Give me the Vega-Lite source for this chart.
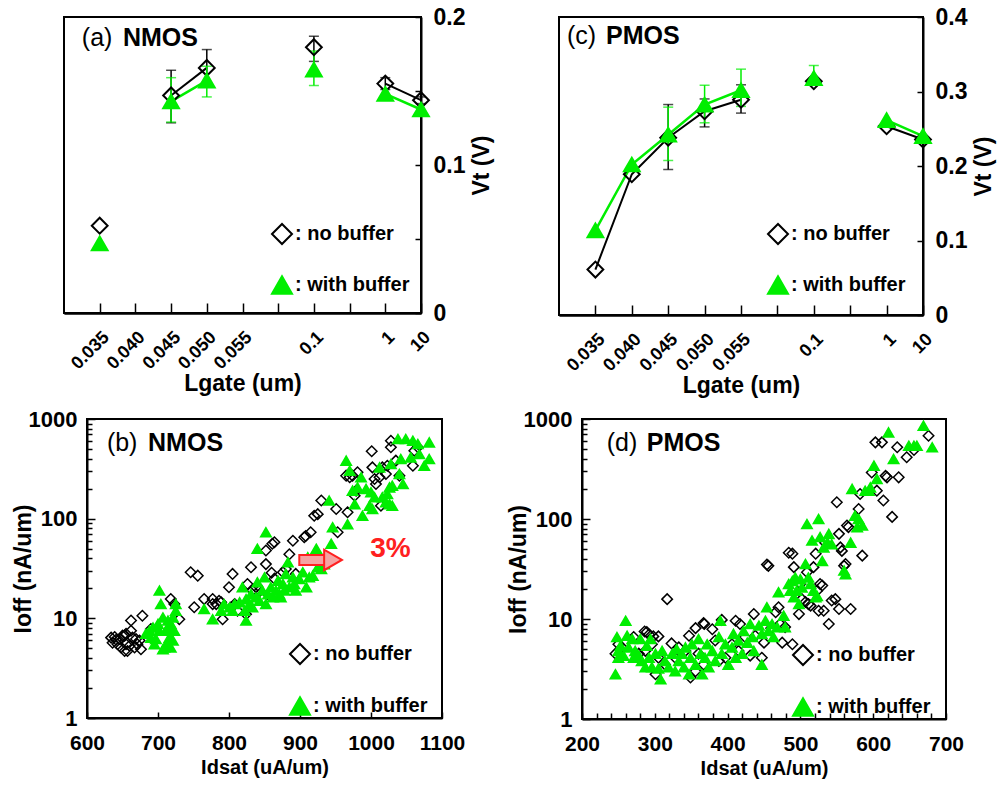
{
  "$schema": "https://vega.github.io/schema/vega-lite/v6.json",
  "padding": {"left": 11, "top": 5, "right": 0, "bottom": 0},
  "background": "white",
  "config": {
    "font": "Liberation Sans",
    "view": {"stroke": "black", "strokeWidth": 2},
    "axis": {"labelFont": "Liberation Sans", "labelFontWeight": "bold", "labelColor": "black", "titleFont": "Liberation Sans", "titleFontWeight": "bold", "titleColor": "black", "domainColor": "black", "domainWidth": 2, "tickColor": "black", "tickWidth": 1.5, "grid": false, "labelFlush": false, "labelBound": false},
    "legend": {"labelFont": "Liberation Sans", "labelFontWeight": "bold", "labelColor": "black", "labelFontSize": 20}
  },
  "datasets": {
    "vtN": [
      {"pos": 1, "type": "no buffer", "vt": 0.059, "lo": null, "hi": null, "seg": "A"},
      {"pos": 3, "type": "no buffer", "vt": 0.147, "lo": 0.1285, "hi": 0.164, "seg": "B"},
      {"pos": 4, "type": "no buffer", "vt": 0.1656, "lo": 0.156, "hi": 0.178, "seg": "B"},
      {"pos": 7, "type": "no buffer", "vt": 0.1796, "lo": 0.170, "hi": 0.187, "seg": "C"},
      {"pos": 9, "type": "no buffer", "vt": 0.155, "lo": 0.151, "hi": 0.159, "seg": "D"},
      {"pos": 10, "type": "no buffer", "vt": 0.1438, "lo": 0.1415, "hi": 0.146, "seg": "D"},
      {"pos": 1, "type": "with buffer", "vt": 0.047, "lo": null, "hi": null, "seg": "A"},
      {"pos": 3, "type": "with buffer", "vt": 0.143, "lo": 0.129, "hi": 0.159, "seg": "B"},
      {"pos": 4, "type": "with buffer", "vt": 0.157, "lo": 0.146, "hi": 0.1667, "seg": "B"},
      {"pos": 7, "type": "with buffer", "vt": 0.1645, "lo": 0.1537, "hi": 0.177, "seg": "C"},
      {"pos": 9, "type": "with buffer", "vt": 0.148, "lo": null, "hi": null, "seg": "D"},
      {"pos": 10, "type": "with buffer", "vt": 0.1375, "lo": null, "hi": null, "seg": "D"}
    ],
    "vtP": [
      {"pos": 1, "type": "no buffer", "vt": 0.061, "lo": null, "hi": null, "seg": "A"},
      {"pos": 2, "type": "no buffer", "vt": 0.189, "lo": null, "hi": null, "seg": "A"},
      {"pos": 3, "type": "no buffer", "vt": 0.238, "lo": 0.1953, "hi": 0.2825, "seg": "A"},
      {"pos": 4, "type": "no buffer", "vt": 0.2735, "lo": 0.2525, "hi": 0.29, "seg": "A"},
      {"pos": 5, "type": "no buffer", "vt": 0.289, "lo": 0.271, "hi": 0.309, "seg": "A"},
      {"pos": 7, "type": "no buffer", "vt": 0.3137, "lo": 0.309, "hi": 0.318, "seg": "C"},
      {"pos": 9, "type": "no buffer", "vt": 0.2534, "lo": null, "hi": null, "seg": "D"},
      {"pos": 10, "type": "no buffer", "vt": 0.2355, "lo": null, "hi": null, "seg": "D"},
      {"pos": 1, "type": "with buffer", "vt": 0.1135, "lo": null, "hi": null, "seg": "A"},
      {"pos": 2, "type": "with buffer", "vt": 0.202, "lo": null, "hi": null, "seg": "A"},
      {"pos": 3, "type": "with buffer", "vt": 0.242, "lo": 0.2074, "hi": 0.279, "seg": "A"},
      {"pos": 4, "type": "with buffer", "vt": 0.2825, "lo": 0.258, "hi": 0.3084, "seg": "A"},
      {"pos": 5, "type": "with buffer", "vt": 0.3017, "lo": 0.28, "hi": 0.33, "seg": "A"},
      {"pos": 7, "type": "with buffer", "vt": 0.318, "lo": 0.31, "hi": 0.335, "seg": "C"},
      {"pos": 9, "type": "with buffer", "vt": 0.2615, "lo": null, "hi": null, "seg": "D"},
      {"pos": 10, "type": "with buffer", "vt": 0.24, "lo": null, "hi": null, "seg": "D"}
    ],
    "ioN": [
      {"type": "no buffer", "Idsat": 634, "Ioff": 6.4}, {"type": "no buffer", "Idsat": 636, "Ioff": 5.7}, {"type": "no buffer", "Idsat": 641, "Ioff": 6.1}, {"type": "no buffer", "Idsat": 646, "Ioff": 6.2}, {"type": "no buffer", "Idsat": 648, "Ioff": 5.1}, {"type": "no buffer", "Idsat": 653, "Ioff": 6.7}, {"type": "no buffer", "Idsat": 655, "Ioff": 5.5}, {"type": "no buffer", "Idsat": 660, "Ioff": 5.3}, {"type": "no buffer", "Idsat": 664, "Ioff": 6.4}, {"type": "no buffer", "Idsat": 662, "Ioff": 7.5}, {"type": "no buffer", "Idsat": 655, "Ioff": 7.0}, {"type": "no buffer", "Idsat": 650, "Ioff": 6.7}, {"type": "no buffer", "Idsat": 662, "Ioff": 9.5}, {"type": "no buffer", "Idsat": 669, "Ioff": 6.2}, {"type": "no buffer", "Idsat": 671, "Ioff": 5.5}, {"type": "no buffer", "Idsat": 676, "Ioff": 4.9}, {"type": "no buffer", "Idsat": 678, "Ioff": 10.6}, {"type": "no buffer", "Idsat": 674, "Ioff": 6.0}, {"type": "no buffer", "Idsat": 667, "Ioff": 5.1}, {"type": "no buffer", "Idsat": 657, "Ioff": 4.7}, {"type": "no buffer", "Idsat": 653, "Ioff": 4.7}, {"type": "no buffer", "Idsat": 643, "Ioff": 5.5}, {"type": "no buffer", "Idsat": 639, "Ioff": 6.5}, {"type": "no buffer", "Idsat": 690, "Ioff": 7.8}, {"type": "no buffer", "Idsat": 718, "Ioff": 15.6}, {"type": "no buffer", "Idsat": 723, "Ioff": 13.9}, {"type": "no buffer", "Idsat": 730, "Ioff": 9.8}, {"type": "no buffer", "Idsat": 746, "Ioff": 29}, {"type": "no buffer", "Idsat": 756, "Ioff": 26.8}, {"type": "no buffer", "Idsat": 751, "Ioff": 12.9}, {"type": "no buffer", "Idsat": 765, "Ioff": 15.6}, {"type": "no buffer", "Idsat": 777, "Ioff": 15.6}, {"type": "no buffer", "Idsat": 777, "Ioff": 13.9}, {"type": "no buffer", "Idsat": 782, "Ioff": 13.9}, {"type": "no buffer", "Idsat": 786, "Ioff": 15.0}, {"type": "no buffer", "Idsat": 789, "Ioff": 14.5}, {"type": "no buffer", "Idsat": 791, "Ioff": 9.8}, {"type": "no buffer", "Idsat": 800, "Ioff": 20.5}, {"type": "no buffer", "Idsat": 805, "Ioff": 27.9}, {"type": "no buffer", "Idsat": 808, "Ioff": 13.9}, {"type": "no buffer", "Idsat": 803, "Ioff": 12.9}, {"type": "no buffer", "Idsat": 812, "Ioff": 11.9}, {"type": "no buffer", "Idsat": 824, "Ioff": 11.0}, {"type": "no buffer", "Idsat": 826, "Ioff": 22.1}, {"type": "no buffer", "Idsat": 831, "Ioff": 32.5}, {"type": "no buffer", "Idsat": 833, "Ioff": 19.0}, {"type": "no buffer", "Idsat": 838, "Ioff": 20.5}, {"type": "no buffer", "Idsat": 843, "Ioff": 19.0}, {"type": "no buffer", "Idsat": 847, "Ioff": 15.6}, {"type": "no buffer", "Idsat": 852, "Ioff": 35}, {"type": "no buffer", "Idsat": 852, "Ioff": 48}, {"type": "no buffer", "Idsat": 860, "Ioff": 28.7}, {"type": "no buffer", "Idsat": 864, "Ioff": 25}, {"type": "no buffer", "Idsat": 861, "Ioff": 56}, {"type": "no buffer", "Idsat": 864, "Ioff": 58}, {"type": "no buffer", "Idsat": 876, "Ioff": 29}, {"type": "no buffer", "Idsat": 880, "Ioff": 31.3}, {"type": "no buffer", "Idsat": 885, "Ioff": 44}, {"type": "no buffer", "Idsat": 890, "Ioff": 60}, {"type": "no buffer", "Idsat": 906, "Ioff": 65}, {"type": "no buffer", "Idsat": 908, "Ioff": 67}, {"type": "no buffer", "Idsat": 915, "Ioff": 73}, {"type": "no buffer", "Idsat": 894, "Ioff": 27.9}, {"type": "no buffer", "Idsat": 920, "Ioff": 107}, {"type": "no buffer", "Idsat": 925, "Ioff": 111}, {"type": "no buffer", "Idsat": 930, "Ioff": 152}, {"type": "no buffer", "Idsat": 951, "Ioff": 125}, {"type": "no buffer", "Idsat": 953, "Ioff": 73}, {"type": "no buffer", "Idsat": 967, "Ioff": 116}, {"type": "no buffer", "Idsat": 965, "Ioff": 270}, {"type": "no buffer", "Idsat": 970, "Ioff": 260}, {"type": "no buffer", "Idsat": 974, "Ioff": 270}, {"type": "no buffer", "Idsat": 979, "Ioff": 191}, {"type": "no buffer", "Idsat": 977, "Ioff": 170}, {"type": "no buffer", "Idsat": 981, "Ioff": 292}, {"type": "no buffer", "Idsat": 1001, "Ioff": 475}, {"type": "no buffer", "Idsat": 1002, "Ioff": 327}, {"type": "no buffer", "Idsat": 1005, "Ioff": 250}, {"type": "no buffer", "Idsat": 1007, "Ioff": 223}, {"type": "no buffer", "Idsat": 1012, "Ioff": 260}, {"type": "no buffer", "Idsat": 1014, "Ioff": 135}, {"type": "no buffer", "Idsat": 1016, "Ioff": 327}, {"type": "no buffer", "Idsat": 1021, "Ioff": 281}, {"type": "no buffer", "Idsat": 1023, "Ioff": 340}, {"type": "no buffer", "Idsat": 1028, "Ioff": 520}, {"type": "no buffer", "Idsat": 1028, "Ioff": 606}, {"type": "no buffer", "Idsat": 1035, "Ioff": 382}, {"type": "no buffer", "Idsat": 1040, "Ioff": 270}, {"type": "no buffer", "Idsat": 1059, "Ioff": 340}, {"type": "no buffer", "Idsat": 1061, "Ioff": 481}, {"type": "no buffer", "Idsat": 1066, "Ioff": 520},
      {"type": "with buffer", "Idsat": 683, "Ioff": 7.0}, {"type": "with buffer", "Idsat": 690, "Ioff": 6.4}, {"type": "with buffer", "Idsat": 695, "Ioff": 5.5}, {"type": "with buffer", "Idsat": 700, "Ioff": 8.8}, {"type": "with buffer", "Idsat": 702, "Ioff": 19.0}, {"type": "with buffer", "Idsat": 704, "Ioff": 13.9}, {"type": "with buffer", "Idsat": 707, "Ioff": 10.2}, {"type": "with buffer", "Idsat": 711, "Ioff": 7.5}, {"type": "with buffer", "Idsat": 714, "Ioff": 9.5}, {"type": "with buffer", "Idsat": 714, "Ioff": 5.5}, {"type": "with buffer", "Idsat": 716, "Ioff": 6.4}, {"type": "with buffer", "Idsat": 718, "Ioff": 8.8}, {"type": "with buffer", "Idsat": 721, "Ioff": 10.2}, {"type": "with buffer", "Idsat": 723, "Ioff": 7.5}, {"type": "with buffer", "Idsat": 725, "Ioff": 13.9}, {"type": "with buffer", "Idsat": 725, "Ioff": 11.9}, {"type": "with buffer", "Idsat": 709, "Ioff": 5.1}, {"type": "with buffer", "Idsat": 702, "Ioff": 7.5}, {"type": "with buffer", "Idsat": 697, "Ioff": 6.2}, {"type": "with buffer", "Idsat": 688, "Ioff": 7.5}, {"type": "with buffer", "Idsat": 693, "Ioff": 8.1}, {"type": "with buffer", "Idsat": 721, "Ioff": 6.0}, {"type": "with buffer", "Idsat": 718, "Ioff": 5.1}, {"type": "with buffer", "Idsat": 707, "Ioff": 4.9}, {"type": "with buffer", "Idsat": 714, "Ioff": 8.1},
      {"type": "with buffer", "Idsat": 765, "Ioff": 12.4}, {"type": "with buffer", "Idsat": 777, "Ioff": 9.8}, {"type": "with buffer", "Idsat": 789, "Ioff": 11.9}, {"type": "with buffer", "Idsat": 793, "Ioff": 13.9}, {"type": "with buffer", "Idsat": 801, "Ioff": 12.9}, {"type": "with buffer", "Idsat": 805, "Ioff": 11.9}, {"type": "with buffer", "Idsat": 808, "Ioff": 13.9}, {"type": "with buffer", "Idsat": 815, "Ioff": 14.5}, {"type": "with buffer", "Idsat": 819, "Ioff": 20.5}, {"type": "with buffer", "Idsat": 822, "Ioff": 11.9}, {"type": "with buffer", "Idsat": 824, "Ioff": 15.6}, {"type": "with buffer", "Idsat": 824, "Ioff": 9.5}, {"type": "with buffer", "Idsat": 829, "Ioff": 13.9}, {"type": "with buffer", "Idsat": 831, "Ioff": 17.5}, {"type": "with buffer", "Idsat": 833, "Ioff": 12.9}, {"type": "with buffer", "Idsat": 838, "Ioff": 16.3}, {"type": "with buffer", "Idsat": 840, "Ioff": 23.0}, {"type": "with buffer", "Idsat": 840, "Ioff": 50}, {"type": "with buffer", "Idsat": 843, "Ioff": 15.0}, {"type": "with buffer", "Idsat": 847, "Ioff": 19.0}, {"type": "with buffer", "Idsat": 850, "Ioff": 25.8}, {"type": "with buffer", "Idsat": 852, "Ioff": 13.9}, {"type": "with buffer", "Idsat": 852, "Ioff": 73}, {"type": "with buffer", "Idsat": 855, "Ioff": 17.5}, {"type": "with buffer", "Idsat": 859, "Ioff": 20.5}, {"type": "with buffer", "Idsat": 862, "Ioff": 16.3}, {"type": "with buffer", "Idsat": 866, "Ioff": 19.0}, {"type": "with buffer", "Idsat": 869, "Ioff": 23.9}, {"type": "with buffer", "Idsat": 871, "Ioff": 17.5}, {"type": "with buffer", "Idsat": 873, "Ioff": 16.3}, {"type": "with buffer", "Idsat": 876, "Ioff": 22.1}, {"type": "with buffer", "Idsat": 878, "Ioff": 19.0}, {"type": "with buffer", "Idsat": 880, "Ioff": 27.9}, {"type": "with buffer", "Idsat": 883, "Ioff": 36.5}, {"type": "with buffer", "Idsat": 885, "Ioff": 20.5}, {"type": "with buffer", "Idsat": 890, "Ioff": 25.8}, {"type": "with buffer", "Idsat": 892, "Ioff": 22.1}, {"type": "with buffer", "Idsat": 894, "Ioff": 19.0}, {"type": "with buffer", "Idsat": 899, "Ioff": 24.8}, {"type": "with buffer", "Idsat": 904, "Ioff": 29}, {"type": "with buffer", "Idsat": 909, "Ioff": 20.5}, {"type": "with buffer", "Idsat": 911, "Ioff": 41}, {"type": "with buffer", "Idsat": 913, "Ioff": 25.8}, {"type": "with buffer", "Idsat": 918, "Ioff": 26.8}, {"type": "with buffer", "Idsat": 923, "Ioff": 50}, {"type": "with buffer", "Idsat": 925, "Ioff": 32.5}, {"type": "with buffer", "Idsat": 930, "Ioff": 31.3}, {"type": "with buffer", "Idsat": 934, "Ioff": 35}, {"type": "with buffer", "Idsat": 939, "Ioff": 41}, {"type": "with buffer", "Idsat": 941, "Ioff": 152}, {"type": "with buffer", "Idsat": 944, "Ioff": 56}, {"type": "with buffer", "Idsat": 946, "Ioff": 82}, {"type": "with buffer", "Idsat": 965, "Ioff": 382}, {"type": "with buffer", "Idsat": 967, "Ioff": 88}, {"type": "with buffer", "Idsat": 970, "Ioff": 303}, {"type": "with buffer", "Idsat": 974, "Ioff": 191}, {"type": "with buffer", "Idsat": 977, "Ioff": 140}, {"type": "with buffer", "Idsat": 981, "Ioff": 206}, {"type": "with buffer", "Idsat": 986, "Ioff": 260}, {"type": "with buffer", "Idsat": 988, "Ioff": 107}, {"type": "with buffer", "Idsat": 993, "Ioff": 199}, {"type": "with buffer", "Idsat": 998, "Ioff": 135}, {"type": "with buffer", "Idsat": 1000, "Ioff": 184}, {"type": "with buffer", "Idsat": 1002, "Ioff": 125}, {"type": "with buffer", "Idsat": 1005, "Ioff": 164}, {"type": "with buffer", "Idsat": 1012, "Ioff": 327}, {"type": "with buffer", "Idsat": 1016, "Ioff": 164}, {"type": "with buffer", "Idsat": 1021, "Ioff": 146}, {"type": "with buffer", "Idsat": 1023, "Ioff": 177}, {"type": "with buffer", "Idsat": 1026, "Ioff": 140}, {"type": "with buffer", "Idsat": 1028, "Ioff": 353}, {"type": "with buffer", "Idsat": 1038, "Ioff": 630}, {"type": "with buffer", "Idsat": 1040, "Ioff": 281}, {"type": "with buffer", "Idsat": 1042, "Ioff": 397}, {"type": "with buffer", "Idsat": 1045, "Ioff": 223}, {"type": "with buffer", "Idsat": 1049, "Ioff": 630}, {"type": "with buffer", "Idsat": 1056, "Ioff": 412}, {"type": "with buffer", "Idsat": 1059, "Ioff": 606}, {"type": "with buffer", "Idsat": 1066, "Ioff": 561}, {"type": "with buffer", "Idsat": 1068, "Ioff": 445}, {"type": "with buffer", "Idsat": 1075, "Ioff": 340}, {"type": "with buffer", "Idsat": 1082, "Ioff": 583}, {"type": "with buffer", "Idsat": 1082, "Ioff": 397}, {"type": "with buffer", "Idsat": 1030, "Ioff": 214}, {"type": "with buffer", "Idsat": 1030, "Ioff": 135}, {"type": "with buffer", "Idsat": 1026, "Ioff": 206}
    ],
    "ioP": [
      {"type": "no buffer", "Idsat": 246, "Ioff": 4.5}, {"type": "no buffer", "Idsat": 250, "Ioff": 5.6}, {"type": "no buffer", "Idsat": 255, "Ioff": 5.2}, {"type": "no buffer", "Idsat": 271, "Ioff": 6.6}, {"type": "no buffer", "Idsat": 278, "Ioff": 4.5}, {"type": "no buffer", "Idsat": 286, "Ioff": 7.5}, {"type": "no buffer", "Idsat": 289, "Ioff": 7.4}, {"type": "no buffer", "Idsat": 292, "Ioff": 7.0}, {"type": "no buffer", "Idsat": 287, "Ioff": 4.8}, {"type": "no buffer", "Idsat": 296, "Ioff": 5.6}, {"type": "no buffer", "Idsat": 298, "Ioff": 6.7}, {"type": "no buffer", "Idsat": 305, "Ioff": 6.7}, {"type": "no buffer", "Idsat": 305, "Ioff": 4.1}, {"type": "no buffer", "Idsat": 301, "Ioff": 2.8}, {"type": "no buffer", "Idsat": 314, "Ioff": 3.5}, {"type": "no buffer", "Idsat": 317, "Ioff": 15.8}, {"type": "no buffer", "Idsat": 323, "Ioff": 5.7}, {"type": "no buffer", "Idsat": 328, "Ioff": 4.1}, {"type": "no buffer", "Idsat": 333, "Ioff": 5.2}, {"type": "no buffer", "Idsat": 342, "Ioff": 4.8}, {"type": "no buffer", "Idsat": 347, "Ioff": 6.8}, {"type": "no buffer", "Idsat": 349, "Ioff": 2.6}, {"type": "no buffer", "Idsat": 356, "Ioff": 8.1}, {"type": "no buffer", "Idsat": 356, "Ioff": 3.0}, {"type": "no buffer", "Idsat": 360, "Ioff": 4.5}, {"type": "no buffer", "Idsat": 367, "Ioff": 9.1}, {"type": "no buffer", "Idsat": 368, "Ioff": 8.9}, {"type": "no buffer", "Idsat": 367, "Ioff": 3.5}, {"type": "no buffer", "Idsat": 379, "Ioff": 7.9}, {"type": "no buffer", "Idsat": 383, "Ioff": 6.1}, {"type": "no buffer", "Idsat": 388, "Ioff": 3.8}, {"type": "no buffer", "Idsat": 392, "Ioff": 9.8}, {"type": "no buffer", "Idsat": 397, "Ioff": 4.1}, {"type": "no buffer", "Idsat": 406, "Ioff": 5.6}, {"type": "no buffer", "Idsat": 411, "Ioff": 9.6}, {"type": "no buffer", "Idsat": 415, "Ioff": 4.8}, {"type": "no buffer", "Idsat": 417, "Ioff": 8.9}, {"type": "no buffer", "Idsat": 424, "Ioff": 6.6}, {"type": "no buffer", "Idsat": 431, "Ioff": 4.3}, {"type": "no buffer", "Idsat": 436, "Ioff": 11.2}, {"type": "no buffer", "Idsat": 438, "Ioff": 6.8}, {"type": "no buffer", "Idsat": 447, "Ioff": 4.1}, {"type": "no buffer", "Idsat": 450, "Ioff": 5.8}, {"type": "no buffer", "Idsat": 454, "Ioff": 35}, {"type": "no buffer", "Idsat": 456, "Ioff": 34}, {"type": "no buffer", "Idsat": 460, "Ioff": 8.1}, {"type": "no buffer", "Idsat": 466, "Ioff": 11.7}, {"type": "no buffer", "Idsat": 470, "Ioff": 13.1}, {"type": "no buffer", "Idsat": 472, "Ioff": 8.9}, {"type": "no buffer", "Idsat": 475, "Ioff": 5.8}, {"type": "no buffer", "Idsat": 479, "Ioff": 8.3}, {"type": "no buffer", "Idsat": 484, "Ioff": 46}, {"type": "no buffer", "Idsat": 489, "Ioff": 45}, {"type": "no buffer", "Idsat": 489, "Ioff": 5.6}, {"type": "no buffer", "Idsat": 491, "Ioff": 33}, {"type": "no buffer", "Idsat": 498, "Ioff": 11.2}, {"type": "no buffer", "Idsat": 500, "Ioff": 22.4}, {"type": "no buffer", "Idsat": 502, "Ioff": 15.8}, {"type": "no buffer", "Idsat": 507, "Ioff": 14.8}, {"type": "no buffer", "Idsat": 509, "Ioff": 29.3}, {"type": "no buffer", "Idsat": 511, "Ioff": 14.1}, {"type": "no buffer", "Idsat": 514, "Ioff": 13.6}, {"type": "no buffer", "Idsat": 518, "Ioff": 33}, {"type": "no buffer", "Idsat": 521, "Ioff": 45}, {"type": "no buffer", "Idsat": 523, "Ioff": 19.2}, {"type": "no buffer", "Idsat": 525, "Ioff": 12.1}, {"type": "no buffer", "Idsat": 527, "Ioff": 22.4}, {"type": "no buffer", "Idsat": 530, "Ioff": 21.6}, {"type": "no buffer", "Idsat": 532, "Ioff": 12.1}, {"type": "no buffer", "Idsat": 534, "Ioff": 58}, {"type": "no buffer", "Idsat": 539, "Ioff": 8.9}, {"type": "no buffer", "Idsat": 543, "Ioff": 15.3}, {"type": "no buffer", "Idsat": 548, "Ioff": 15.8}, {"type": "no buffer", "Idsat": 550, "Ioff": 147}, {"type": "no buffer", "Idsat": 553, "Ioff": 71}, {"type": "no buffer", "Idsat": 553, "Ioff": 12.6}, {"type": "no buffer", "Idsat": 555, "Ioff": 52}, {"type": "no buffer", "Idsat": 557, "Ioff": 48}, {"type": "no buffer", "Idsat": 560, "Ioff": 34}, {"type": "no buffer", "Idsat": 562, "Ioff": 35.5}, {"type": "no buffer", "Idsat": 564, "Ioff": 86}, {"type": "no buffer", "Idsat": 566, "Ioff": 83}, {"type": "no buffer", "Idsat": 569, "Ioff": 12.6}, {"type": "no buffer", "Idsat": 580, "Ioff": 126}, {"type": "no buffer", "Idsat": 582, "Ioff": 178}, {"type": "no buffer", "Idsat": 585, "Ioff": 43}, {"type": "no buffer", "Idsat": 598, "Ioff": 292}, {"type": "no buffer", "Idsat": 603, "Ioff": 584}, {"type": "no buffer", "Idsat": 605, "Ioff": 192}, {"type": "no buffer", "Idsat": 612, "Ioff": 584}, {"type": "no buffer", "Idsat": 614, "Ioff": 153}, {"type": "no buffer", "Idsat": 617, "Ioff": 270}, {"type": "no buffer", "Idsat": 619, "Ioff": 261}, {"type": "no buffer", "Idsat": 626, "Ioff": 105}, {"type": "no buffer", "Idsat": 633, "Ioff": 521}, {"type": "no buffer", "Idsat": 635, "Ioff": 261}, {"type": "no buffer", "Idsat": 646, "Ioff": 414}, {"type": "no buffer", "Idsat": 656, "Ioff": 490}, {"type": "no buffer", "Idsat": 676, "Ioff": 681},
      {"type": "with buffer", "Idsat": 246, "Ioff": 2.8}, {"type": "with buffer", "Idsat": 248, "Ioff": 6.6}, {"type": "with buffer", "Idsat": 250, "Ioff": 4.8}, {"type": "with buffer", "Idsat": 250, "Ioff": 4.1}, {"type": "with buffer", "Idsat": 253, "Ioff": 5.4}, {"type": "with buffer", "Idsat": 257, "Ioff": 4.3}, {"type": "with buffer", "Idsat": 260, "Ioff": 9.6}, {"type": "with buffer", "Idsat": 262, "Ioff": 6.8}, {"type": "with buffer", "Idsat": 264, "Ioff": 5.2}, {"type": "with buffer", "Idsat": 269, "Ioff": 6.3}, {"type": "with buffer", "Idsat": 271, "Ioff": 4.1}, {"type": "with buffer", "Idsat": 273, "Ioff": 4.8}, {"type": "with buffer", "Idsat": 278, "Ioff": 4.3}, {"type": "with buffer", "Idsat": 280, "Ioff": 6.3}, {"type": "with buffer", "Idsat": 282, "Ioff": 3.8}, {"type": "with buffer", "Idsat": 287, "Ioff": 3.3}, {"type": "with buffer", "Idsat": 289, "Ioff": 5.4}, {"type": "with buffer", "Idsat": 292, "Ioff": 4.1}, {"type": "with buffer", "Idsat": 294, "Ioff": 6.3}, {"type": "with buffer", "Idsat": 296, "Ioff": 3.3}, {"type": "with buffer", "Idsat": 301, "Ioff": 4.5}, {"type": "with buffer", "Idsat": 305, "Ioff": 3.2}, {"type": "with buffer", "Idsat": 308, "Ioff": 2.5}, {"type": "with buffer", "Idsat": 310, "Ioff": 4.8}, {"type": "with buffer", "Idsat": 314, "Ioff": 3.8}, {"type": "with buffer", "Idsat": 319, "Ioff": 3.3}, {"type": "with buffer", "Idsat": 324, "Ioff": 4.5}, {"type": "with buffer", "Idsat": 328, "Ioff": 3.0}, {"type": "with buffer", "Idsat": 330, "Ioff": 5.0}, {"type": "with buffer", "Idsat": 333, "Ioff": 3.8}, {"type": "with buffer", "Idsat": 337, "Ioff": 4.5}, {"type": "with buffer", "Idsat": 340, "Ioff": 3.3}, {"type": "with buffer", "Idsat": 342, "Ioff": 5.2}, {"type": "with buffer", "Idsat": 347, "Ioff": 2.8}, {"type": "with buffer", "Idsat": 349, "Ioff": 4.1}, {"type": "with buffer", "Idsat": 351, "Ioff": 5.6}, {"type": "with buffer", "Idsat": 356, "Ioff": 3.5}, {"type": "with buffer", "Idsat": 360, "Ioff": 6.3}, {"type": "with buffer", "Idsat": 363, "Ioff": 4.5}, {"type": "with buffer", "Idsat": 365, "Ioff": 2.8}, {"type": "with buffer", "Idsat": 369, "Ioff": 4.1}, {"type": "with buffer", "Idsat": 372, "Ioff": 5.6}, {"type": "with buffer", "Idsat": 374, "Ioff": 3.3}, {"type": "with buffer", "Idsat": 379, "Ioff": 4.8}, {"type": "with buffer", "Idsat": 383, "Ioff": 3.8}, {"type": "with buffer", "Idsat": 388, "Ioff": 6.6}, {"type": "with buffer", "Idsat": 390, "Ioff": 9.6}, {"type": "with buffer", "Idsat": 392, "Ioff": 4.5}, {"type": "with buffer", "Idsat": 397, "Ioff": 5.6}, {"type": "with buffer", "Idsat": 401, "Ioff": 3.5}, {"type": "with buffer", "Idsat": 406, "Ioff": 5.2}, {"type": "with buffer", "Idsat": 408, "Ioff": 7.1}, {"type": "with buffer", "Idsat": 411, "Ioff": 4.1}, {"type": "with buffer", "Idsat": 415, "Ioff": 6.1}, {"type": "with buffer", "Idsat": 420, "Ioff": 4.5}, {"type": "with buffer", "Idsat": 422, "Ioff": 7.6}, {"type": "with buffer", "Idsat": 427, "Ioff": 5.8}, {"type": "with buffer", "Idsat": 431, "Ioff": 8.9}, {"type": "with buffer", "Idsat": 434, "Ioff": 6.6}, {"type": "with buffer", "Idsat": 436, "Ioff": 4.8}, {"type": "with buffer", "Idsat": 447, "Ioff": 3.5}, {"type": "with buffer", "Idsat": 443, "Ioff": 8.6}, {"type": "with buffer", "Idsat": 447, "Ioff": 7.1}, {"type": "with buffer", "Idsat": 452, "Ioff": 9.6}, {"type": "with buffer", "Idsat": 454, "Ioff": 13.1}, {"type": "with buffer", "Idsat": 456, "Ioff": 7.6}, {"type": "with buffer", "Idsat": 461, "Ioff": 8.9}, {"type": "with buffer", "Idsat": 463, "Ioff": 6.6}, {"type": "with buffer", "Idsat": 468, "Ioff": 8.3}, {"type": "with buffer", "Idsat": 470, "Ioff": 18.5}, {"type": "with buffer", "Idsat": 477, "Ioff": 10.8}, {"type": "with buffer", "Idsat": 479, "Ioff": 8.3}, {"type": "with buffer", "Idsat": 484, "Ioff": 22.4}, {"type": "with buffer", "Idsat": 486, "Ioff": 19.2}, {"type": "with buffer", "Idsat": 489, "Ioff": 24}, {"type": "with buffer", "Idsat": 491, "Ioff": 16.5}, {"type": "with buffer", "Idsat": 493, "Ioff": 26}, {"type": "with buffer", "Idsat": 495, "Ioff": 19.2}, {"type": "with buffer", "Idsat": 498, "Ioff": 14.1}, {"type": "with buffer", "Idsat": 500, "Ioff": 25}, {"type": "with buffer", "Idsat": 502, "Ioff": 20.7}, {"type": "with buffer", "Idsat": 507, "Ioff": 35.5}, {"type": "with buffer", "Idsat": 509, "Ioff": 89}, {"type": "with buffer", "Idsat": 511, "Ioff": 26}, {"type": "with buffer", "Idsat": 514, "Ioff": 22.4}, {"type": "with buffer", "Idsat": 516, "Ioff": 61}, {"type": "with buffer", "Idsat": 518, "Ioff": 19.2}, {"type": "with buffer", "Idsat": 521, "Ioff": 16.5}, {"type": "with buffer", "Idsat": 523, "Ioff": 17}, {"type": "with buffer", "Idsat": 525, "Ioff": 100}, {"type": "with buffer", "Idsat": 527, "Ioff": 66}, {"type": "with buffer", "Idsat": 530, "Ioff": 38}, {"type": "with buffer", "Idsat": 532, "Ioff": 52}, {"type": "with buffer", "Idsat": 537, "Ioff": 58}, {"type": "with buffer", "Idsat": 539, "Ioff": 71}, {"type": "with buffer", "Idsat": 543, "Ioff": 56}, {"type": "with buffer", "Idsat": 560, "Ioff": 30.5}, {"type": "with buffer", "Idsat": 562, "Ioff": 28}, {"type": "with buffer", "Idsat": 569, "Ioff": 58}, {"type": "with buffer", "Idsat": 571, "Ioff": 200}, {"type": "with buffer", "Idsat": 575, "Ioff": 108}, {"type": "with buffer", "Idsat": 578, "Ioff": 83}, {"type": "with buffer", "Idsat": 580, "Ioff": 100}, {"type": "with buffer", "Idsat": 585, "Ioff": 86}, {"type": "with buffer", "Idsat": 589, "Ioff": 192}, {"type": "with buffer", "Idsat": 594, "Ioff": 192}, {"type": "with buffer", "Idsat": 596, "Ioff": 207}, {"type": "with buffer", "Idsat": 601, "Ioff": 342}, {"type": "with buffer", "Idsat": 605, "Ioff": 252}, {"type": "with buffer", "Idsat": 621, "Ioff": 735}, {"type": "with buffer", "Idsat": 628, "Ioff": 398}, {"type": "with buffer", "Idsat": 649, "Ioff": 541}, {"type": "with buffer", "Idsat": 656, "Ioff": 541}, {"type": "with buffer", "Idsat": 660, "Ioff": 541}, {"type": "with buffer", "Idsat": 669, "Ioff": 858}, {"type": "with buffer", "Idsat": 681, "Ioff": 521}
    ]
  },
  "resolve": {"scale": {"shape": "independent", "fill": "independent", "stroke": "independent"}, "legend": {"shape": "independent", "fill": "independent", "stroke": "independent"}},
  "spacing": 11,
  "hconcat": [
    {
      "spacing": 106,
      "bounds": "flush",
      "resolve": {"scale": {"shape": "independent", "fill": "independent", "stroke": "independent"}, "legend": {"shape": "independent", "fill": "independent", "stroke": "independent"}},
      "vconcat": [
        {
          "width": 357, "height": 296,
          "data": {"name": "vtN"},
          "resolve": {"axis": {"x": "independent"}},
          "layer": [
            {"transform": [{"filter": "datum.type=='no buffer' && isValid(datum.lo)"}], "mark": {"type": "rule", "color": "black", "strokeWidth": 1.5},
             "encoding": {"x": {"field": "pos", "type": "quantitative", "title": "Lgate (um)", "scale": {"domain": [0, 10], "nice": false, "zero": false},
               "axis": {"orient": "bottom", "values": [1, 3, 5, 7, 9], "labelExpr": "['','0.035','0.040','0.045','0.050','0.055','','0.1','','1','10'][datum.value]", "labelAngle": -45, "labelFontSize": 18, "labelOverlap": false, "labelFlush": false, "labelBound": false, "tickSize": -10, "labelPadding": 25, "titleFontSize": 23, "titlePadding": 0}},
               "y": {"field": "lo", "type": "quantitative", "title": "Vt (V)", "scale": {"domain": [0, 0.2], "nice": false, "zero": false},
               "axis": {"orient": "right", "values": [0, 0.05, 0.1, 0.15, 0.2], "labelExpr": "round(datum.value*20)%2==0 ? format(datum.value,'~g') : ''", "labelOverlap": false, "labelFlush": false, "labelBound": false, "tickSize": -6, "labelPadding": 18, "labelFontSize": 23, "titleFontSize": 23, "titleAngle": 270, "titleBaseline": "top", "titlePadding": 6}},
               "y2": {"field": "hi"}}},
            {"transform": [{"filter": "datum.type=='no buffer' && isValid(datum.lo)"}, {"fold": ["lo", "hi"], "as": ["end", "v"]}], "mark": {"type": "tick", "orient": "horizontal", "size": 10, "thickness": 1.5, "color": "black"},
             "encoding": {"x": {"field": "pos", "type": "quantitative", "scale": {"domain": [0, 10], "nice": false, "zero": false},
               "axis": {"orient": "bottom", "values": [2, 4, 6, 8, 10], "labelExpr": "['','0.035','0.040','0.045','0.050','0.055','','0.1','','1','10'][datum.value]", "labelAngle": -45, "labelFontSize": 18, "labelOverlap": false, "labelFlush": false, "labelBound": false, "tickSize": -10, "labelPadding": 25, "title": null}},
               "y": {"field": "v", "type": "quantitative", "title": "Vt (V)", "scale": {"domain": [0, 0.2], "nice": false, "zero": false}}}},
            {"transform": [{"filter": "datum.type=='no buffer'"}], "mark": {"type": "line", "color": "black", "strokeWidth": 2},
             "encoding": {"x": {"field": "pos", "type": "quantitative", "scale": {"domain": [0, 10], "nice": false, "zero": false}, "axis": null}, "y": {"field": "vt", "type": "quantitative", "title": "Vt (V)", "scale": {"domain": [0, 0.2], "nice": false, "zero": false}}, "detail": {"field": "seg"}}},
            {"transform": [{"filter": "datum.type=='with buffer' && isValid(datum.lo)"}], "mark": {"type": "rule", "color": "#00ee00", "strokeWidth": 1.5},
             "encoding": {"x": {"field": "pos", "type": "quantitative", "scale": {"domain": [0, 10], "nice": false, "zero": false}, "axis": null}, "y": {"field": "lo", "type": "quantitative", "title": "Vt (V)", "scale": {"domain": [0, 0.2], "nice": false, "zero": false}}, "y2": {"field": "hi"}}},
            {"transform": [{"filter": "datum.type=='with buffer' && isValid(datum.lo)"}, {"fold": ["lo", "hi"], "as": ["end", "v"]}], "mark": {"type": "tick", "orient": "horizontal", "size": 10, "thickness": 1.5, "color": "#00ee00"},
             "encoding": {"x": {"field": "pos", "type": "quantitative", "scale": {"domain": [0, 10], "nice": false, "zero": false}, "axis": null}, "y": {"field": "v", "type": "quantitative", "title": "Vt (V)", "scale": {"domain": [0, 0.2], "nice": false, "zero": false}}}},
            {"transform": [{"filter": "datum.type=='with buffer'"}], "mark": {"type": "line", "color": "#00ee00", "strokeWidth": 2.5},
             "encoding": {"x": {"field": "pos", "type": "quantitative", "scale": {"domain": [0, 10], "nice": false, "zero": false}, "axis": null}, "y": {"field": "vt", "type": "quantitative", "title": "Vt (V)", "scale": {"domain": [0, 0.2], "nice": false, "zero": false}}, "detail": {"field": "seg"}}},
            {"mark": {"type": "point", "filled": true, "size": 250, "strokeWidth": 2, "opacity": 1},
             "encoding": {"x": {"field": "pos", "type": "quantitative", "scale": {"domain": [0, 10], "nice": false, "zero": false}, "axis": null}, "y": {"field": "vt", "type": "quantitative", "title": "Vt (V)", "scale": {"domain": [0, 0.2], "nice": false, "zero": false}},
               "shape": {"field": "type", "type": "nominal", "scale": {"domain": ["no buffer", "with buffer"], "range": ["diamond", "triangle-up"]}, "legend": {"title": null, "orient": "none", "legendX": 207, "legendY": 206, "labelExpr": "': ' + datum.label", "symbolSize": 400, "symbolStrokeWidth": 2, "rowPadding": 24, "labelOffset": 2, "padding": 0}},
               "fill": {"field": "type", "type": "nominal", "scale": {"domain": ["no buffer", "with buffer"], "range": ["transparent", "#00ee00"]}, "legend": {"title": null, "orient": "none", "legendX": 207, "legendY": 206, "labelExpr": "': ' + datum.label", "symbolSize": 400, "symbolStrokeWidth": 2, "rowPadding": 24, "labelOffset": 2, "padding": 0}},
               "stroke": {"field": "type", "type": "nominal", "scale": {"domain": ["no buffer", "with buffer"], "range": ["black", "#00ee00"]}, "legend": {"title": null, "orient": "none", "legendX": 207, "legendY": 206, "labelExpr": "': ' + datum.label", "symbolSize": 400, "symbolStrokeWidth": 2, "rowPadding": 24, "labelOffset": 2, "padding": 0}}}},
            {"data": {"values": [{"label": "(a)"}]}, "mark": {"type": "text", "align": "left", "baseline": "middle", "fontSize": 25, "fontWeight": "normal", "color": "black"},
             "encoding": {"x": {"datum": 0.5, "type": "quantitative", "scale": {"domain": [0, 10], "nice": false, "zero": false}, "axis": null}, "y": {"datum": 0.186, "type": "quantitative", "scale": {"domain": [0, 0.2], "nice": false, "zero": false}}, "text": {"field": "label"}}},
            {"data": {"values": [{"label": "NMOS"}]}, "mark": {"type": "text", "align": "left", "baseline": "middle", "fontSize": 25, "fontWeight": "bold", "color": "black"},
             "encoding": {"x": {"datum": 1.65, "type": "quantitative", "scale": {"domain": [0, 10], "nice": false, "zero": false}, "axis": null}, "y": {"datum": 0.186, "type": "quantitative", "scale": {"domain": [0, 0.2], "nice": false, "zero": false}}, "text": {"field": "label"}}}
          ]
        },
        {
          "spacing": 0,
          "bounds": "flush",
          "resolve": {"scale": {"shape": "independent", "fill": "independent", "stroke": "independent"}, "legend": {"shape": "independent", "fill": "independent", "stroke": "independent"}},
          "hconcat": [
            {"width": 23, "height": 10, "data": {"values": []}, "mark": "point", "view": {"stroke": null}},
            {
              "width": 355, "height": 299,
              "layer": [
                {"data": {"name": "ioN"}, "mark": {"type": "point", "filled": true, "size": 110, "strokeWidth": 1.5, "opacity": 1},
                 "encoding": {
                   "x": {"field": "Idsat", "type": "quantitative", "title": "Idsat (uA/um)", "scale": {"domain": [600, 1100], "nice": false, "zero": false},
                     "axis": {"values": [600, 700, 800, 900, 1000, 1100], "format": "d", "labelOverlap": false, "labelFlush": false, "labelBound": false, "tickSize": -6, "labelPadding": 20, "labelFontSize": 21, "titleFontSize": 20, "titlePadding": 4}},
                   "y": {"field": "Ioff", "type": "quantitative", "title": "Ioff (nA/um)", "scale": {"type": "log", "domain": [1, 1000], "nice": false},
                     "axis": {"values": [1, 2, 3, 4, 5, 6, 7, 8, 9, 10, 20, 30, 40, 50, 60, 70, 80, 90, 100, 200, 300, 400, 500, 600, 700, 800, 900, 1000], "labelExpr": "(datum.value==1||datum.value==10||datum.value==100||datum.value==1000) ? ''+datum.value : ''", "labelFlush": false, "labelBound": false, "tickSize": {"condition": {"test": "datum.value==1||datum.value==10||datum.value==100||datum.value==1000", "value": -8}, "value": -5}, "labelPadding": 18, "labelFontSize": 22, "titleFontSize": 23, "titlePadding": -7}},
                   "shape": {"field": "type", "type": "nominal", "scale": {"domain": ["no buffer", "with buffer"], "range": ["diamond", "triangle-up"]}, "legend": {"title": null, "orient": "none", "legendX": 202, "legendY": 224, "labelExpr": "': ' + datum.label", "symbolSize": 400, "symbolStrokeWidth": 2, "rowPadding": 25, "labelOffset": 2, "padding": 0}},
                   "fill": {"field": "type", "type": "nominal", "scale": {"domain": ["no buffer", "with buffer"], "range": ["transparent", "#00ee00"]}, "legend": {"title": null, "orient": "none", "legendX": 202, "legendY": 224, "labelExpr": "': ' + datum.label", "symbolSize": 400, "symbolStrokeWidth": 2, "rowPadding": 25, "labelOffset": 2, "padding": 0}},
                   "stroke": {"field": "type", "type": "nominal", "scale": {"domain": ["no buffer", "with buffer"], "range": ["black", "#00ee00"]}, "legend": {"title": null, "orient": "none", "legendX": 202, "legendY": 224, "labelExpr": "': ' + datum.label", "symbolSize": 400, "symbolStrokeWidth": 2, "rowPadding": 25, "labelOffset": 2, "padding": 0}}}},
                {"data": {"values": [{"from": 899, "to": 938, "lo": 34.3, "hi": 43.2}]}, "mark": {"type": "rect", "fill": "#f5a3a3", "stroke": "#ff2020", "strokeWidth": 2},
                 "encoding": {"x": {"field": "from", "type": "quantitative", "title": "Idsat (uA/um)", "scale": {"domain": [600, 1100], "nice": false, "zero": false}}, "x2": {"field": "to"}, "y": {"field": "lo", "type": "quantitative", "title": "Ioff (nA/um)", "scale": {"type": "log", "domain": [1, 1000], "nice": false}}, "y2": {"field": "hi"}}},
                {"data": {"values": [{"at": 946.5, "level": 38.5}]}, "mark": {"type": "point", "shape": "triangle-right", "size": 420, "filled": true, "fill": "#f5a3a3", "stroke": "#ff2020", "strokeWidth": 2, "opacity": 1},
                 "encoding": {"x": {"field": "at", "type": "quantitative", "title": "Idsat (uA/um)", "scale": {"domain": [600, 1100], "nice": false, "zero": false}}, "y": {"field": "level", "type": "quantitative", "title": "Ioff (nA/um)", "scale": {"type": "log", "domain": [1, 1000], "nice": false}}}},
                {"data": {"values": [{"label": "3%"}]}, "mark": {"type": "text", "align": "left", "baseline": "middle", "fontSize": 28, "fontWeight": "bold", "color": "#ff2020"},
                 "encoding": {"x": {"datum": 999, "type": "quantitative", "scale": {"domain": [600, 1100], "nice": false, "zero": false}}, "y": {"datum": 49.6, "type": "quantitative", "scale": {"type": "log", "domain": [1, 1000], "nice": false}}, "text": {"field": "label"}}},
                {"data": {"values": [{"label": "(b)"}]}, "mark": {"type": "text", "align": "left", "baseline": "middle", "fontSize": 25, "fontWeight": "normal", "color": "black"},
                 "encoding": {"x": {"datum": 628, "type": "quantitative", "scale": {"domain": [600, 1100], "nice": false, "zero": false}}, "y": {"datum": 574, "type": "quantitative", "scale": {"type": "log", "domain": [1, 1000], "nice": false}}, "text": {"field": "label"}}},
                {"data": {"values": [{"label": "NMOS"}]}, "mark": {"type": "text", "align": "left", "baseline": "middle", "fontSize": 25, "fontWeight": "bold", "color": "black"},
                 "encoding": {"x": {"datum": 686, "type": "quantitative", "scale": {"domain": [600, 1100], "nice": false, "zero": false}}, "y": {"datum": 574, "type": "quantitative", "scale": {"type": "log", "domain": [1, 1000], "nice": false}}, "text": {"field": "label"}}}
              ]
            }
          ]
        }
      ]
    },
    {
      "spacing": 104,
      "bounds": "flush",
      "resolve": {"scale": {"shape": "independent", "fill": "independent", "stroke": "independent"}, "legend": {"shape": "independent", "fill": "independent", "stroke": "independent"}},
      "vconcat": [
        {
          "width": 364, "height": 298,
          "data": {"name": "vtP"},
          "resolve": {"axis": {"x": "independent"}},
          "layer": [
            {"transform": [{"filter": "datum.type=='no buffer' && isValid(datum.lo)"}], "mark": {"type": "rule", "color": "black", "strokeWidth": 1.5},
             "encoding": {"x": {"field": "pos", "type": "quantitative", "title": "Lgate (um)", "scale": {"domain": [0, 10], "nice": false, "zero": false},
               "axis": {"orient": "bottom", "values": [1, 3, 5, 7, 9], "labelExpr": "['','0.035','0.040','0.045','0.050','0.055','','0.1','','1','10'][datum.value]", "labelAngle": -45, "labelFontSize": 18, "labelOverlap": false, "labelFlush": false, "labelBound": false, "tickSize": -10, "labelPadding": 25, "titleFontSize": 23, "titlePadding": 0}},
               "y": {"field": "lo", "type": "quantitative", "title": "Vt (V)", "scale": {"domain": [0, 0.4], "nice": false, "zero": false},
               "axis": {"orient": "right", "values": [0, 0.05, 0.1, 0.15, 0.2, 0.25, 0.3, 0.35, 0.4], "labelExpr": "round(datum.value*20)%2==0 ? format(datum.value,'~g') : ''", "labelOverlap": false, "labelFlush": false, "labelBound": false, "tickSize": -6, "labelPadding": 18, "labelFontSize": 23, "titleFontSize": 23, "titleAngle": 270, "titleBaseline": "top", "titlePadding": 6}},
               "y2": {"field": "hi"}}},
            {"transform": [{"filter": "datum.type=='no buffer' && isValid(datum.lo)"}, {"fold": ["lo", "hi"], "as": ["end", "v"]}], "mark": {"type": "tick", "orient": "horizontal", "size": 10, "thickness": 1.5, "color": "black"},
             "encoding": {"x": {"field": "pos", "type": "quantitative", "scale": {"domain": [0, 10], "nice": false, "zero": false},
               "axis": {"orient": "bottom", "values": [2, 4, 6, 8, 10], "labelExpr": "['','0.035','0.040','0.045','0.050','0.055','','0.1','','1','10'][datum.value]", "labelAngle": -45, "labelFontSize": 18, "labelOverlap": false, "labelFlush": false, "labelBound": false, "tickSize": -10, "labelPadding": 25, "title": null}},
               "y": {"field": "v", "type": "quantitative", "title": "Vt (V)", "scale": {"domain": [0, 0.4], "nice": false, "zero": false}}}},
            {"transform": [{"filter": "datum.type=='no buffer'"}], "mark": {"type": "line", "color": "black", "strokeWidth": 2},
             "encoding": {"x": {"field": "pos", "type": "quantitative", "scale": {"domain": [0, 10], "nice": false, "zero": false}, "axis": null}, "y": {"field": "vt", "type": "quantitative", "title": "Vt (V)", "scale": {"domain": [0, 0.4], "nice": false, "zero": false}}, "detail": {"field": "seg"}}},
            {"transform": [{"filter": "datum.type=='with buffer' && isValid(datum.lo)"}], "mark": {"type": "rule", "color": "#00ee00", "strokeWidth": 1.5},
             "encoding": {"x": {"field": "pos", "type": "quantitative", "scale": {"domain": [0, 10], "nice": false, "zero": false}, "axis": null}, "y": {"field": "lo", "type": "quantitative", "title": "Vt (V)", "scale": {"domain": [0, 0.4], "nice": false, "zero": false}}, "y2": {"field": "hi"}}},
            {"transform": [{"filter": "datum.type=='with buffer' && isValid(datum.lo)"}, {"fold": ["lo", "hi"], "as": ["end", "v"]}], "mark": {"type": "tick", "orient": "horizontal", "size": 10, "thickness": 1.5, "color": "#00ee00"},
             "encoding": {"x": {"field": "pos", "type": "quantitative", "scale": {"domain": [0, 10], "nice": false, "zero": false}, "axis": null}, "y": {"field": "v", "type": "quantitative", "title": "Vt (V)", "scale": {"domain": [0, 0.4], "nice": false, "zero": false}}}},
            {"transform": [{"filter": "datum.type=='with buffer'"}], "mark": {"type": "line", "color": "#00ee00", "strokeWidth": 2.5},
             "encoding": {"x": {"field": "pos", "type": "quantitative", "scale": {"domain": [0, 10], "nice": false, "zero": false}, "axis": null}, "y": {"field": "vt", "type": "quantitative", "title": "Vt (V)", "scale": {"domain": [0, 0.4], "nice": false, "zero": false}}, "detail": {"field": "seg"}}},
            {"mark": {"type": "point", "filled": true, "size": 250, "strokeWidth": 2, "opacity": 1},
             "encoding": {"x": {"field": "pos", "type": "quantitative", "scale": {"domain": [0, 10], "nice": false, "zero": false}, "axis": null}, "y": {"field": "vt", "type": "quantitative", "title": "Vt (V)", "scale": {"domain": [0, 0.4], "nice": false, "zero": false}},
               "shape": {"field": "type", "type": "nominal", "scale": {"domain": ["no buffer", "with buffer"], "range": ["diamond", "triangle-up"]}, "legend": {"title": null, "orient": "none", "legendX": 208, "legendY": 206, "labelExpr": "': ' + datum.label", "symbolSize": 400, "symbolStrokeWidth": 2, "rowPadding": 24, "labelOffset": 2, "padding": 0}},
               "fill": {"field": "type", "type": "nominal", "scale": {"domain": ["no buffer", "with buffer"], "range": ["transparent", "#00ee00"]}, "legend": {"title": null, "orient": "none", "legendX": 208, "legendY": 206, "labelExpr": "': ' + datum.label", "symbolSize": 400, "symbolStrokeWidth": 2, "rowPadding": 24, "labelOffset": 2, "padding": 0}},
               "stroke": {"field": "type", "type": "nominal", "scale": {"domain": ["no buffer", "with buffer"], "range": ["black", "#00ee00"]}, "legend": {"title": null, "orient": "none", "legendX": 208, "legendY": 206, "labelExpr": "': ' + datum.label", "symbolSize": 400, "symbolStrokeWidth": 2, "rowPadding": 24, "labelOffset": 2, "padding": 0}}}},
            {"data": {"values": [{"label": "(c)"}]}, "mark": {"type": "text", "align": "left", "baseline": "middle", "fontSize": 25, "fontWeight": "normal", "color": "black"},
             "encoding": {"x": {"datum": 0.22, "type": "quantitative", "scale": {"domain": [0, 10], "nice": false, "zero": false}, "axis": null}, "y": {"datum": 0.3745, "type": "quantitative", "scale": {"domain": [0, 0.4], "nice": false, "zero": false}}, "text": {"field": "label"}}},
            {"data": {"values": [{"label": "PMOS"}]}, "mark": {"type": "text", "align": "left", "baseline": "middle", "fontSize": 25, "fontWeight": "bold", "color": "black"},
             "encoding": {"x": {"datum": 1.29, "type": "quantitative", "scale": {"domain": [0, 10], "nice": false, "zero": false}, "axis": null}, "y": {"datum": 0.3745, "type": "quantitative", "scale": {"domain": [0, 0.4], "nice": false, "zero": false}}, "text": {"field": "label"}}}
          ]
        },
        {
          "spacing": 0,
          "bounds": "flush",
          "resolve": {"scale": {"shape": "independent", "fill": "independent", "stroke": "independent"}, "legend": {"shape": "independent", "fill": "independent", "stroke": "independent"}},
          "hconcat": [
            {"width": 23, "height": 10, "data": {"values": []}, "mark": "point", "view": {"stroke": null}},
            {
              "width": 364, "height": 300,
              "resolve": {"axis": {"x": "independent"}},
              "layer": [
                {"data": {"name": "ioP"}, "mark": {"type": "point", "filled": true, "size": 110, "strokeWidth": 1.5, "opacity": 1},
                 "encoding": {
                   "x": {"field": "Idsat", "type": "quantitative", "title": "Idsat (uA/um)", "scale": {"domain": [200, 700], "nice": false, "zero": false},
                     "axis": {"orient": "bottom", "values": [200, 300, 400, 500, 600, 700], "format": "d", "labelOverlap": false, "labelFlush": false, "labelBound": false, "tickSize": -6, "labelPadding": 20, "labelFontSize": 21, "titleFontSize": 20, "titlePadding": 4}},
                   "y": {"field": "Ioff", "type": "quantitative", "title": "Ioff (nA/um)", "scale": {"type": "log", "domain": [1, 1000], "nice": false},
                     "axis": {"values": [1, 2, 3, 4, 5, 6, 7, 8, 9, 10, 20, 30, 40, 50, 60, 70, 80, 90, 100, 200, 300, 400, 500, 600, 700, 800, 900, 1000], "labelExpr": "(datum.value==1||datum.value==10||datum.value==100||datum.value==1000) ? ''+datum.value : ''", "labelFlush": false, "labelBound": false, "tickSize": {"condition": {"test": "datum.value==1||datum.value==10||datum.value==100||datum.value==1000", "value": -8}, "value": -5}, "labelPadding": 18, "labelFontSize": 22, "titleFontSize": 23, "titlePadding": -7}},
                   "shape": {"field": "type", "type": "nominal", "scale": {"domain": ["no buffer", "with buffer"], "range": ["diamond", "triangle-up"]}, "legend": {"title": null, "orient": "none", "legendX": 210, "legendY": 225, "labelExpr": "': ' + datum.label", "symbolSize": 400, "symbolStrokeWidth": 2, "rowPadding": 25, "labelOffset": 2, "padding": 0}},
                   "fill": {"field": "type", "type": "nominal", "scale": {"domain": ["no buffer", "with buffer"], "range": ["transparent", "#00ee00"]}, "legend": {"title": null, "orient": "none", "legendX": 210, "legendY": 225, "labelExpr": "': ' + datum.label", "symbolSize": 400, "symbolStrokeWidth": 2, "rowPadding": 25, "labelOffset": 2, "padding": 0}},
                   "stroke": {"field": "type", "type": "nominal", "scale": {"domain": ["no buffer", "with buffer"], "range": ["black", "#00ee00"]}, "legend": {"title": null, "orient": "none", "legendX": 210, "legendY": 225, "labelExpr": "': ' + datum.label", "symbolSize": 400, "symbolStrokeWidth": 2, "rowPadding": 25, "labelOffset": 2, "padding": 0}}}},
                {"data": {"values": [{"label": "(d)"}]}, "mark": {"type": "text", "align": "left", "baseline": "middle", "fontSize": 25, "fontWeight": "normal", "color": "black"},
                 "encoding": {"x": {"datum": 234, "type": "quantitative", "scale": {"domain": [200, 700], "nice": false, "zero": false},
                   "axis": {"orient": "bottom", "values": [220, 240, 260, 280, 320, 340, 360, 380, 420, 440, 460, 480, 520, 540, 560, 580, 620, 640, 660, 680], "labels": false, "title": null, "domain": false, "tickSize": -6}},
                   "y": {"datum": 575, "type": "quantitative", "scale": {"type": "log", "domain": [1, 1000], "nice": false}}, "text": {"field": "label"}}},
                {"data": {"values": [{"label": "PMOS"}]}, "mark": {"type": "text", "align": "left", "baseline": "middle", "fontSize": 25, "fontWeight": "bold", "color": "black"},
                 "encoding": {"x": {"datum": 289, "type": "quantitative", "scale": {"domain": [200, 700], "nice": false, "zero": false}, "axis": null}, "y": {"datum": 575, "type": "quantitative", "scale": {"type": "log", "domain": [1, 1000], "nice": false}}, "text": {"field": "label"}}}
              ]
            }
          ]
        }
      ]
    }
  ]
}
